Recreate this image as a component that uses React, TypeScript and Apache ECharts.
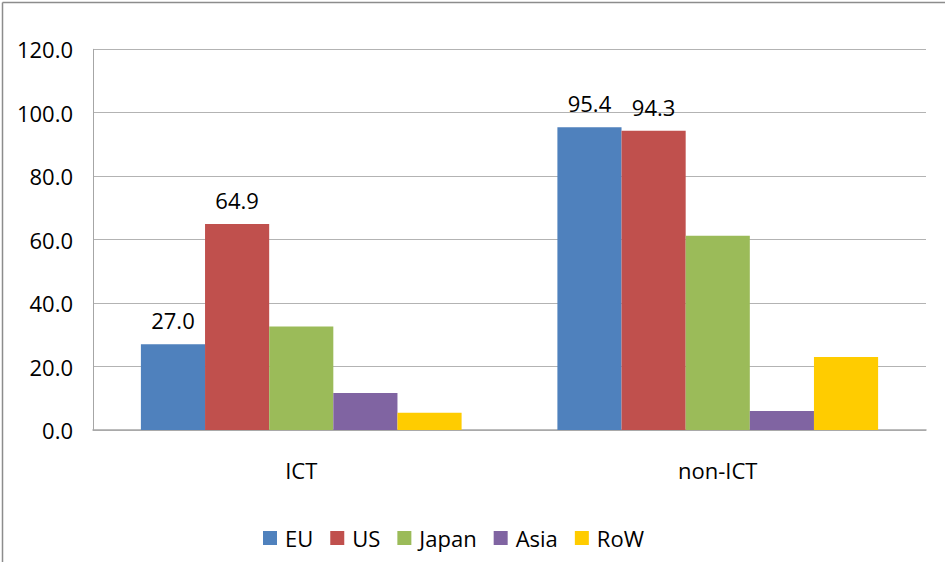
import React, { useEffect, useRef } from "react";
import * as echarts from "echarts";

const categories = ["ICT", "non-ICT"];
const seriesNames = ["EU", "US", "Japan", "Asia", "RoW"];
const euValues = [27.0, 95.4];
const usValues = [64.9, 94.3];
const japanValues = [32.6, 61.2];
const asiaValues = [11.7, 6.0];
const rowValues = [5.4, 23.0];
const colors = ["#4F81BD", "#C0504D", "#9BBB59", "#8064A2", "#FFCC00"];
const labelledSeries = ["EU", "US"];

const FONT = "Open Sans";

export default function App() {
  const ref = useRef<HTMLDivElement>(null);
  useEffect(() => {
    if (!ref.current) return;
    const chart = echarts.init(ref.current, undefined, { renderer: "svg" });
    const values = [euValues, usValues, japanValues, asiaValues, rowValues];
    chart.setOption({
      animation: false,
      backgroundColor: "#ffffff",
      textStyle: { fontFamily: FONT },
      graphic: [
        {
          type: "line",
          shape: { x1: 2.5, y1: 2.5, x2: 945, y2: 2.5 },
          style: { stroke: "#8c8c8c", lineWidth: 1.5 },
        },
        {
          type: "line",
          shape: { x1: 2.5, y1: 2.5, x2: 2.5, y2: 562 },
          style: { stroke: "#8c8c8c", lineWidth: 1.5 },
        },
      ],
      grid: { left: 93, right: 19, top: 49.3, bottom: 132, containLabel: false },
      legend: {
        bottom: 8,
        left: 258,
        itemWidth: 14,
        itemHeight: 14,
        itemGap: 17,
        icon: "rect",
        textStyle: { fontFamily: FONT, fontSize: 22, color: "#000", padding: [0, 0, 0, 3] },
        data: seriesNames,
      },
      xAxis: {
        type: "category",
        data: categories,
        axisLine: { lineStyle: { color: "#a6a6a6", width: 1.5 } },
        axisTick: { show: false },
        axisLabel: { fontFamily: FONT, fontSize: 22, color: "#000", margin: 29 },
      },
      yAxis: {
        type: "value",
        min: 0,
        max: 120,
        interval: 20,
        axisLine: { show: true, lineStyle: { color: "#a6a6a6", width: 1 } },
        axisTick: { show: false },
        splitLine: { lineStyle: { color: "#b3b3b3", width: 1.2 } },
        axisLabel: {
          fontFamily: FONT,
          fontSize: 22,
          color: "#000",
          margin: 20,
          formatter: (v: number) => v.toFixed(1),
        },
      },
      series: seriesNames.map((name, i) => ({
        name,
        type: "bar",
        data: values[i],
        barGap: "0%",
        barCategoryGap: "23%",
        itemStyle: { color: colors[i] },
        label: {
          show: labelledSeries.includes(name),
          position: "top",
          distance: 13,
          fontFamily: FONT,
          fontSize: 22,
          color: "#000",
          formatter: (p: any) => Number(p.value).toFixed(1),
        },
      })),
    });
    return () => chart.dispose();
  }, []);
  return <div ref={ref} style={{ width: 945, height: 562, position: "absolute", left: 0, top: 0 }} />;
}
